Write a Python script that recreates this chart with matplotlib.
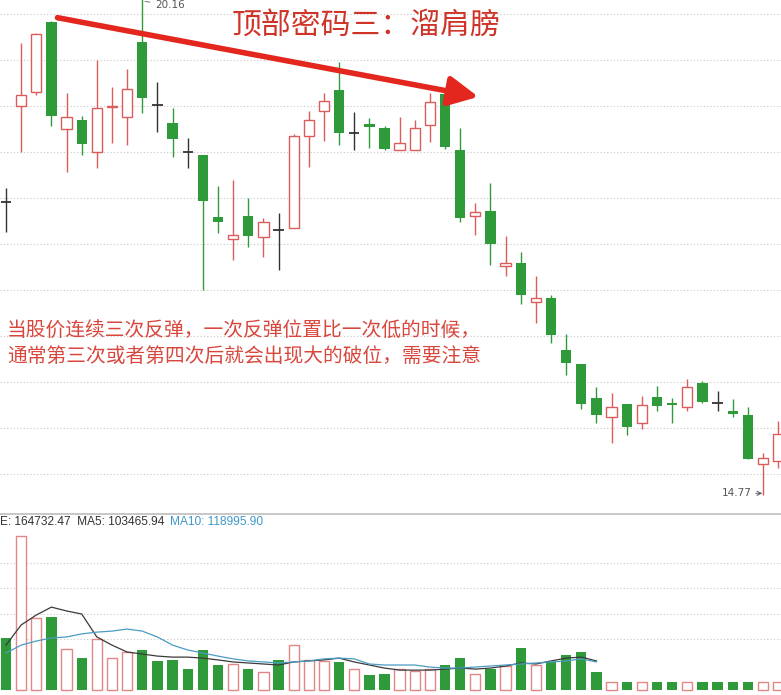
import matplotlib
matplotlib.use('Agg')
import matplotlib.pyplot as plt
import numpy as np

# ---------------- data ----------------
opens = [17.96, 19.00, 19.15, 19.91, 18.75, 18.85, 18.50, 18.99, 18.88, 19.70,
         19.01, 18.82, 18.50, 18.47, 17.79, 17.55, 17.80, 17.58, 17.65, 17.67,
         18.67, 18.95, 19.17, 18.71, 18.80, 18.76, 18.52, 18.52, 18.79, 19.13,
         18.52, 17.80, 17.86, 17.26, 17.29, 16.87, 16.91, 16.35, 16.20, 15.83,
         15.62, 15.76, 15.55, 15.84, 15.77, 15.73, 15.99, 15.77, 15.68, 15.64,
         15.11, 15.14]
highs = [18.11, 19.68, 19.79, 19.92, 19.14, 18.89, 19.50, 19.21, 19.40, 20.16,
         19.26, 18.98, 18.65, 18.47, 18.13, 18.20, 18.00, 17.78, 17.84, 18.70,
         18.95, 19.14, 19.48, 18.93, 18.87, 18.78, 18.88, 18.85, 19.14, 19.15,
         18.76, 17.95, 18.16, 17.59, 17.41, 17.15, 16.95, 16.52, 16.20, 15.95,
         15.88, 15.76, 15.85, 15.96, 15.83, 16.03, 16.01, 15.90, 15.82, 15.73,
         15.23, 15.58]
lows = [17.63, 18.50, 19.12, 18.78, 18.28, 18.47, 18.33, 18.60, 18.58, 18.92,
        18.72, 18.45, 18.33, 17.00, 17.62, 17.33, 17.47, 17.36, 17.22, 17.67,
        18.34, 18.62, 18.58, 18.52, 18.54, 18.52, 18.52, 18.52, 18.61, 18.53,
        17.74, 17.60, 17.27, 17.15, 16.85, 16.64, 16.42, 16.08, 15.71, 15.55,
        15.34, 15.42, 15.49, 15.68, 15.55, 15.68, 15.77, 15.68, 15.62, 15.16,
        14.77, 15.07]
closes = [17.96, 19.12, 19.78, 18.89, 18.88, 18.59, 18.98, 19.00, 19.18, 19.09,
          19.01, 18.64, 18.50, 17.97, 17.74, 17.60, 17.59, 17.74, 17.65, 18.67,
          18.85, 19.05, 18.71, 18.71, 18.77, 18.53, 18.60, 18.76, 19.04, 18.55,
          17.78, 17.85, 17.50, 17.29, 16.95, 16.91, 16.51, 16.21, 15.76, 15.64,
          15.73, 15.51, 15.75, 15.74, 15.75, 15.95, 15.78, 15.77, 15.65, 15.16,
          15.17, 15.43]

volumes = [204000, 604000, 282000, 286000, 161000, 125000, 200000, 125000, 149000, 157000,
           114000, 118000, 82000, 157000, 98000, 102000, 82000, 71000, 118000, 176000,
           118000, 114000, 110000, 82000, 59000, 63000, 82000, 75000, 82000, 98000,
           125000, 63000, 82000, 94000, 165000, 98000, 110000, 137000, 149000, 71000,
           31000, 31000, 31000, 31000, 31000, 31000, 31000, 31000, 31000, 31000,
           31000, 31000]
vol_dir = "GRRGRGRRRGGGGGGRGRGRRRGRGGRRRGGRGRGRGGGGRGRGGRGGGGRR"

ma5 = [176000, 255000, 294000, 325000, 310000, 298000, 208000, 176000, 149000, 141000,
       133000, 129000, 129000, 125000, 118000, 110000, 106000, 102000, 98000, 110000,
       114000, 118000, 125000, 110000, 98000, 86000, 78000, 78000, 78000, 82000,
       86000, 82000, 86000, 94000, 106000, 102000, 114000, 125000, 129000, 114000]
ma10 = [145000, 176000, 192000, 204000, 208000, 220000, 227000, 231000, 239000, 231000,
        208000, 176000, 157000, 145000, 133000, 122000, 114000, 110000, 106000, 110000,
        114000, 122000, 125000, 122000, 102000, 98000, 98000, 98000, 90000, 86000,
        86000, 90000, 94000, 98000, 102000, 106000, 110000, 114000, 122000, 110000]

price_grid = [15.0, 15.5, 16.0, 16.5, 17.0, 17.5, 18.0, 18.5, 19.0, 19.5, 20.0]
vol_grid = [200000, 300000, 400000, 500000]

title = "顶部密码三：溜肩膀"
note1 = "当股价连续三次反弹，一次反弹位置比一次低的时候，"
note2 = "通常第三次或者第四次后就会出现大的破位，需要注意"
vol_label = "E: 164732.47  MA5: 103465.94"
ma10_label = "MA10: 118995.90"

# ---------------- style ----------------
GREEN = '#2e9a3a'
RED = '#dc5c5c'
VRED = '#e28686'
DOJI = '#333333'
GRID = '#c8c8c8'

W, H = 781, 695
fig = plt.figure(figsize=(W / 100, H / 100), dpi=100)
fig.patch.set_facecolor('white')

ax = fig.add_axes([0, (H - 512) / H, 1, 512 / H])
axv = fig.add_axes([0, 0, 1, (H - 514) / H])

n = len(opens)
step = 15.14
xlim = (-6 / step, (W - 6) / step)
bw = 0.68

for a in (ax, axv):
    a.set_xlim(*xlim)
    a.set_xticks([])
    a.set_yticks([])
    for s in a.spines.values():
        s.set_visible(False)
    a.set_facecolor('white')

# price axes
ax.set_ylim(20 - 498 / 92, 20 + 14 / 92)
for g in price_grid:
    ax.axhline(g, color=GRID, lw=0.8, ls=(0, (1, 2)), zorder=0)

for i in range(n):
    o, h, l, c = opens[i], highs[i], lows[i], closes[i]
    if c > o:
        col = RED
    elif c < o:
        col = GREEN
    else:
        col = DOJI
    ax.vlines(i, l, h, color=col, lw=1.0, zorder=2)
    if c > o:
        ax.bar(i, c - o, bottom=o, width=bw, facecolor='white', edgecolor=RED,
               lw=1.0, zorder=3)
    elif c < o:
        ax.bar(i, o - c, bottom=c, width=bw, color=GREEN, lw=0, zorder=3)
    else:
        ax.hlines(o, i - bw / 2, i + bw / 2, color=col, lw=1.3, zorder=3)

# max / min labels
imax = int(np.argmax(highs))
imin = int(np.argmin(lows))
ax.annotate(f"{highs[imax]:.2f}", xy=(imax, highs[imax] - 0.02),
            xytext=(imax + 0.88, highs[imax] - 0.06), fontsize=7.5, color='#555555',
            ha='left', va='center',
            arrowprops=dict(arrowstyle='-', color='#777777', lw=0.7))
ax.annotate(f"{lows[imin]:.2f}", xy=(imin - 0.05, lows[imin] + 0.02),
            xytext=(imin - 0.75, lows[imin] + 0.02), fontsize=7.5, color='#555555',
            ha='right', va='center',
            arrowprops=dict(arrowstyle='->', color='#555555', lw=0.7,
                            shrinkA=1, shrinkB=0))

# red trend arrow across the falling tops
ax.annotate('', xy=(31.2, highs[29] - 0.05), xytext=(3.4, opens[3] + 0.05),
            arrowprops=dict(arrowstyle='-|>,head_length=0.9,head_width=0.45',
                            color='#e3261e', lw=4, shrinkA=0, shrinkB=0,
                            mutation_scale=20),
            zorder=5)

# volume axes
vmin = -5 / 25.5 * 1e5
vmax = (690 - 514) / 25.5 * 1e5
axv.set_ylim(vmin, vmax)
axv.spines['top'].set_visible(True)
axv.spines['top'].set_color('#bdbdbd')
axv.spines['top'].set_linewidth(1.2)
for g in vol_grid:
    axv.axhline(g, color=GRID, lw=0.8, ls=(0, (1, 2)), zorder=0)
for i in range(n):
    if vol_dir[i] == 'R':
        axv.bar(i, volumes[i], width=bw, facecolor='white', edgecolor=VRED,
                lw=1.0, zorder=2)
    else:
        axv.bar(i, volumes[i], width=bw, color=GREEN, lw=0, zorder=2)
axv.plot(np.arange(len(ma5)), ma5, color='#3a3a3a', lw=0.9, zorder=4)
axv.plot(np.arange(len(ma10)), ma10, color='#4a9cc2', lw=0.9, zorder=4)

# texts
cjk = ['Noto Sans CJK SC', 'DejaVu Sans']
fig.text(366 / W, 1 - 25 / H, title, fontsize=21.5, color='#cf3428',
         ha='center', va='center', family=cjk)
fig.text(7 / W, 1 - 331 / H, note1, fontsize=14.2, color='#d8463c',
         ha='left', va='center', family=cjk)
fig.text(7 / W, 1 - 356 / H, note2, fontsize=14.2, color='#d8463c',
         ha='left', va='center', family=cjk)
fig.text(0, 1 - 522 / H, vol_label, fontsize=8.6, color='#333333',
         ha='left', va='center', family=['Liberation Sans', 'DejaVu Sans'])
fig.text(170 / W, 1 - 522 / H, ma10_label, fontsize=8.6, color='#3f97c8',
         ha='left', va='center', family=['Liberation Sans', 'DejaVu Sans'])

fig.savefig('out.png', dpi=100, facecolor='white')
